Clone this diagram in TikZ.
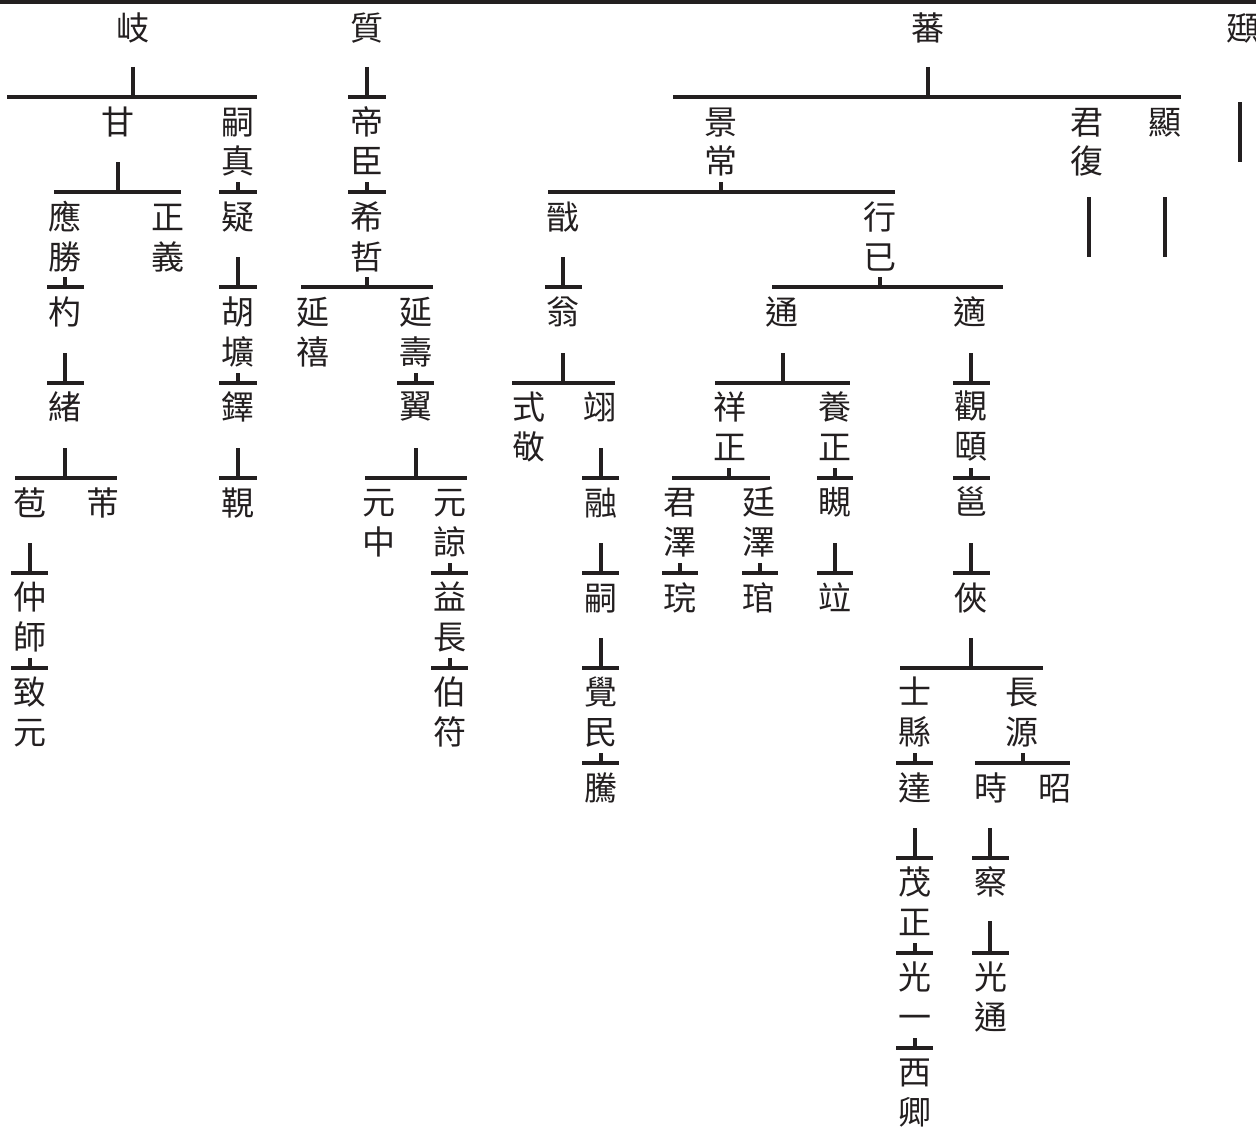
\documentclass[tikz,border=0pt]{standalone}
\usepackage{fontspec}
\newfontfamily\cjk{Noto Sans CJK TC}
\definecolor{ink}{HTML}{231F20}
\newcommand\ch[1]{\rule[-0.12em]{0pt}{1em}#1}
\begin{document}
\begin{tikzpicture}[x=1pt,y=-1pt,
  person/.style={font=\cjk\fontsize{33}{39.5}\selectfont, text=ink, align=center, inner sep=0pt, anchor=center},
  ln/.style={draw=ink, line width=3.6pt}]
\useasboundingbox (0,0) rectangle (1256,1140);
\fill[white] (0,0) rectangle (1256,1140);
% top rule
\draw[draw=ink, line width=4.5pt] (0,2) -- (1256,2);

% ---------- generation 0
\node[person] (qi)   at (133,28) {\ch{岐}};
\node[person] (zhi)  at (367,28) {\ch{質}};
\node[person] (fan)  at (928,28) {\ch{蕃}};
\node[person] (ting) at (1243,28) {\ch{頲}};

% ---------- generation 1
\node[person] (gan)     at (118,122) {\ch{甘}};
\node[person] (sizhen)  at (238,141.5) {\ch{嗣}\\\ch{真}};
\node[person] (dichen)  at (367,141.5) {\ch{帝}\\\ch{臣}};
\node[person] (jingchang) at (721,141.5) {\ch{景}\\\ch{常}};
\node[person] (junfu)   at (1087,141.5) {\ch{君}\\\ch{復}};
\node[person] (xian)    at (1165,122) {\ch{顯}};

% ---------- generation 2
\node[person] (yingsheng) at (65,237) {\ch{應}\\\ch{勝}};
\node[person] (zhengyi)   at (168,237) {\ch{正}\\\ch{義}};
\node[person] (yi)        at (238,217) {\ch{疑}};
\node[person] (xizhe)     at (367,237) {\ch{希}\\\ch{哲}};
\node[person] (jian)      at (563,217) {\ch{戩}};
\node[person] (xingji)    at (880,237) {\ch{行}\\\ch{已}};

% ---------- generation 3
\node[person] (shao)     at (65,312) {\ch{杓}};
\node[person] (hukuang)  at (238,332) {\ch{胡}\\\ch{壙}};
\node[person] (yanxi)    at (313,332) {\ch{延}\\\ch{禧}};
\node[person] (yanshou)  at (416,332) {\ch{延}\\\ch{壽}};
\node[person] (weng)     at (563,312) {\ch{翁}};
\node[person] (tong)     at (782,312) {\ch{通}};
\node[person] (shi)      at (970,312) {\ch{適}};

% ---------- generation 4
\node[person] (xu)        at (65,407) {\ch{緒}};
\node[person] (duo)       at (238,407) {\ch{鐸}};
\node[person] (yiwing)    at (416,406) {\ch{翼}};
\node[person] (shijing)   at (529,427) {\ch{式}\\\ch{敬}};
\node[person] (yiyu)      at (600,407) {\ch{翊}};
\node[person] (xiangzheng) at (730,427) {\ch{祥}\\\ch{正}};
\node[person] (yangzheng) at (835,427) {\ch{養}\\\ch{正}};
\node[person] (guanyi)    at (971,426) {\ch{觀}\\\ch{頤}};

% ---------- generation 5
\node[person] (bao)       at (30,503) {\ch{苞}};
\node[person] (fu)        at (103,503) {\ch{芾}};
\node[person] (gejian)    at (238,503) {\ch{\symbol{"4A64}}};
\node[person] (yuanzhong) at (379,522) {\ch{元}\\\ch{中}};
\node[person] (yuanliang) at (450,522) {\ch{元}\\\ch{諒}};
\node[person] (rong)      at (601,503) {\ch{融}};
\node[person] (junze)     at (680,522) {\ch{君}\\\ch{澤}};
\node[person] (tingze)    at (759,522) {\ch{廷}\\\ch{澤}};
\node[person] (gui)       at (835,502) {\ch{瞡}};
\node[person] (yong)      at (971,502) {\ch{邕}};

% ---------- generation 6
\node[person] (zhongshi)  at (30,617) {\ch{仲}\\\ch{師}};
\node[person] (yichang)   at (450,617) {\ch{益}\\\ch{長}};
\node[person] (si)        at (601,598) {\ch{嗣}};
\node[person] (wan)       at (680,598) {\ch{琓}};
\node[person] (guan)      at (759,598) {\ch{琯}};
\node[person] (bing)      at (835,598) {\ch{竝}};
\node[person] (xia)       at (971,598) {\ch{俠}};

% ---------- generation 7
\node[person] (zhiyuan)   at (30,712) {\ch{致}\\\ch{元}};
\node[person] (bofu)      at (450,712) {\ch{伯}\\\ch{符}};
\node[person] (juemin)    at (601,712) {\ch{覺}\\\ch{民}};
\node[person] (shixian)   at (915,712) {\ch{士}\\\ch{縣}};
\node[person] (changyuan) at (1022,712) {\ch{長}\\\ch{源}};

% ---------- generation 8
\node[person] (teng)  at (601,788) {\ch{騰}};
\node[person] (da)    at (915,788) {\ch{達}};
\node[person] (shis)  at (991,788) {\ch{時}};
\node[person] (zhao)  at (1055,788) {\ch{昭}};

% ---------- generation 9
\node[person] (maozheng) at (915,902) {\ch{茂}\\\ch{正}};
\node[person] (cha)      at (991,882) {\ch{察}};

% ---------- generation 10
\node[person] (guangyi)   at (915,997) {\ch{光}\\\ch{一}};
\node[person] (guangtong) at (991,997) {\ch{光}\\\ch{通}};

% ---------- generation 11
\node[person] (xiqing) at (915,1092) {\ch{西}\\\ch{卿}};

% ================= connectors
% 岐 branch
\draw[ln] (133,67) -- (133,97);  \draw[ln] (7,97) -- (257,97);
\draw[ln] (118,162) -- (118,192); \draw[ln] (54,192) -- (181,192);
\draw[ln] (238,182) -- (238,192); \draw[ln] (219,192) -- (257,192);
\draw[ln] (65,277) -- (65,287);  \draw[ln] (47,287) -- (84,287);
\draw[ln] (238,257) -- (238,287); \draw[ln] (219,287) -- (257,287);
\draw[ln] (65,353) -- (65,383);  \draw[ln] (47,383) -- (84,383);
\draw[ln] (238,373) -- (238,383); \draw[ln] (219,383) -- (257,383);
\draw[ln] (65,448) -- (65,478);  \draw[ln] (15,478) -- (117,478);
\draw[ln] (238,448) -- (238,478); \draw[ln] (219,478) -- (257,478);
\draw[ln] (30,543) -- (30,573);  \draw[ln] (11,573) -- (48,573);
\draw[ln] (30,658) -- (30,668);  \draw[ln] (11,668) -- (48,668);

% 質 branch
\draw[ln] (367,67) -- (367,97);  \draw[ln] (348,97) -- (386,97);
\draw[ln] (367,182) -- (367,192); \draw[ln] (348,192) -- (386,192);
\draw[ln] (367,277) -- (367,287); \draw[ln] (301,287) -- (433,287);
\draw[ln] (416,373) -- (416,383); \draw[ln] (397,383) -- (434,383);
\draw[ln] (416,448) -- (416,478); \draw[ln] (365,478) -- (467,478);
\draw[ln] (450,563) -- (450,573); \draw[ln] (431,573) -- (468,573);
\draw[ln] (450,658) -- (450,668); \draw[ln] (431,668) -- (468,668);

% 蕃 branch
\draw[ln] (928,67) -- (928,97);  \draw[ln] (673,97) -- (1181,97);
\draw[ln] (1240,102) -- (1240,162);
\draw[ln] (1089,197) -- (1089,257);
\draw[ln] (1165,197) -- (1165,257);
\draw[ln] (721,182) -- (721,192); \draw[ln] (548,192) -- (895,192);
\draw[ln] (563,257) -- (563,287); \draw[ln] (545,287) -- (582,287);
\draw[ln] (880,277) -- (880,287); \draw[ln] (772,287) -- (1003,287);
\draw[ln] (563,353) -- (563,383); \draw[ln] (512,383) -- (615,383);
\draw[ln] (783,353) -- (783,383); \draw[ln] (715,383) -- (850,383);
\draw[ln] (971,353) -- (971,383); \draw[ln] (953,383) -- (990,383);
\draw[ln] (601,448) -- (601,478); \draw[ln] (582,478) -- (619,478);
\draw[ln] (729,468) -- (729,478); \draw[ln] (672,478) -- (770,478);
\draw[ln] (835,468) -- (835,478); \draw[ln] (817,478) -- (853,478);
\draw[ln] (971,468) -- (971,478); \draw[ln] (953,478) -- (990,478);
\draw[ln] (601,543) -- (601,573); \draw[ln] (582,573) -- (619,573);
\draw[ln] (680,563) -- (680,573); \draw[ln] (662,573) -- (698,573);
\draw[ln] (760,563) -- (760,573); \draw[ln] (742,573) -- (778,573);
\draw[ln] (835,543) -- (835,573); \draw[ln] (817,573) -- (853,573);
\draw[ln] (971,543) -- (971,573); \draw[ln] (953,573) -- (990,573);
\draw[ln] (601,638) -- (601,668); \draw[ln] (582,668) -- (619,668);
\draw[ln] (971,638) -- (971,668); \draw[ln] (900,668) -- (1043,668);
\draw[ln] (601,753) -- (601,763); \draw[ln] (582,763) -- (619,763);
\draw[ln] (915,753) -- (915,763); \draw[ln] (896,763) -- (933,763);
\draw[ln] (1023,753) -- (1023,763); \draw[ln] (975,763) -- (1070,763);
\draw[ln] (915,828) -- (915,858); \draw[ln] (896,858) -- (933,858);
\draw[ln] (990,828) -- (990,858); \draw[ln] (972,858) -- (1009,858);
\draw[ln] (915,943) -- (915,953); \draw[ln] (896,953) -- (933,953);
\draw[ln] (990,921) -- (990,953); \draw[ln] (972,953) -- (1009,953);
\draw[ln] (915,1038) -- (915,1048); \draw[ln] (896,1048) -- (933,1048);
\end{tikzpicture}
\end{document}
